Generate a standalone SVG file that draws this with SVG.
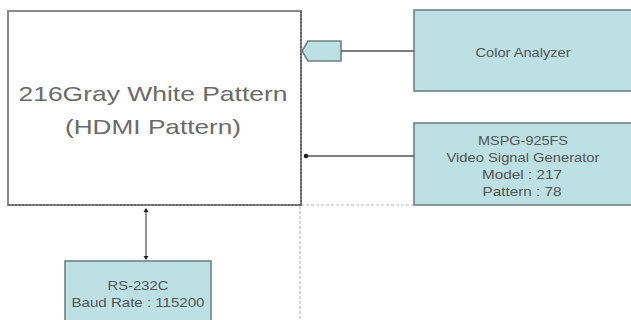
<svg xmlns="http://www.w3.org/2000/svg" width="631" height="320" viewBox="0 0 631 320">
<style>
.box{fill:#bce0e3;stroke:#6d8385;stroke-width:1.6}
.main{fill:#ffffff;stroke:#8a8a8a;stroke-width:2}
.t{font-family:"Liberation Sans",Arial,sans-serif;fill:#555;text-anchor:middle}
.big{font-size:21px;fill:#6a6a6a}
.sm{font-size:13px}
.ln{stroke:#555;stroke-width:1.3;fill:none}
.dash{stroke:#bbb;stroke-width:1.2;stroke-dasharray:3,2;fill:none}
</style>
<rect width="631" height="320" fill="#ffffff"/>
<g id="guides">
<line class="dash" x1="301" y1="205" x2="414" y2="205"/>
<line class="dash" x1="300" y1="206" x2="300" y2="320"/>
</g>
<g id="main">
<rect class="main" x="8" y="11" width="293" height="194"/>
<line x1="8" y1="205" x2="301" y2="205" stroke="#444" stroke-width="1.2" stroke-dasharray="2,1.5"/>
<line x1="301" y1="11" x2="301" y2="205" stroke="#444" stroke-width="1.2" stroke-dasharray="2,1.5"/>
<text class="t big" x="153" y="101" textLength="269" lengthAdjust="spacingAndGlyphs">216Gray White Pattern</text>
<text class="t big" x="153" y="134" textLength="176" lengthAdjust="spacingAndGlyphs">(HDMI Pattern)</text>
</g>
<g id="port">
<polygon class="box" points="302,51 308,41 341,41 341,61 308,61"/>
</g>
<g id="color-analyzer">
<rect class="box" x="414" y="10" width="218" height="81"/>
<text class="t sm" x="523" y="57" textLength="95" lengthAdjust="spacingAndGlyphs">Color Analyzer</text>
</g>
<g id="mspg">
<rect class="box" x="414" y="123" width="218" height="82"/>
<text class="t sm" x="523" y="145" textLength="90" lengthAdjust="spacingAndGlyphs">MSPG-925FS</text>
<text class="t sm" x="523" y="162" textLength="153" lengthAdjust="spacingAndGlyphs">Video Signal Generator</text>
<text class="t sm" x="522" y="179" textLength="80" lengthAdjust="spacingAndGlyphs">Model : 217</text>
<text class="t sm" x="522" y="196" textLength="79" lengthAdjust="spacingAndGlyphs">Pattern : 78</text>
</g>
<g id="rs232">
<rect class="box" x="65" y="261" width="146" height="62"/>
<text class="t sm" x="138" y="290" textLength="61" lengthAdjust="spacingAndGlyphs">RS-232C</text>
<text class="t sm" x="138" y="307" textLength="133" lengthAdjust="spacingAndGlyphs">Baud Rate : 115200</text>
</g>
<g id="connectors">
<line class="ln" x1="341" y1="51" x2="414" y2="51"/>
<line class="ln" x1="305" y1="156" x2="414" y2="156" stroke-width="1.6"/>
<circle cx="306" cy="156" r="2.3" fill="#222"/>
<line class="ln" x1="146" y1="209" x2="146" y2="259"/>
<path d="M146,208 l-2.5,4 h5 z" fill="#222"/>
<path d="M146,260 l-2.5,-4 h5 z" fill="#222"/>
</g>
</svg>
